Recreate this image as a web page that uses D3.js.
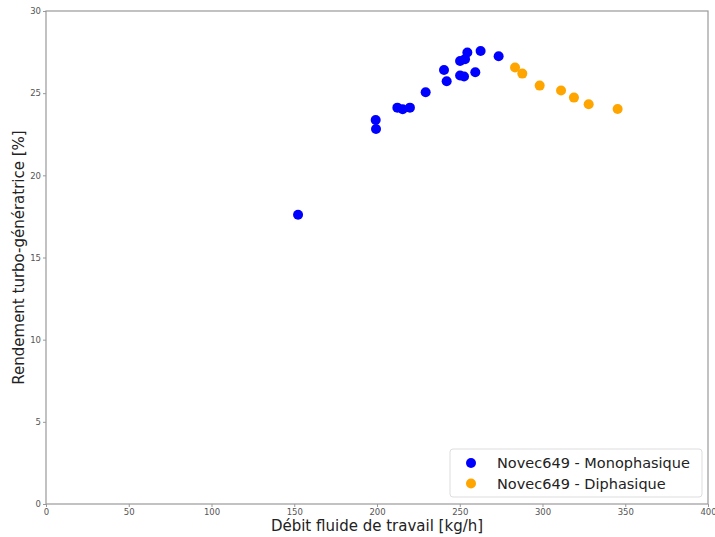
<!DOCTYPE html>
<html><head><meta charset="utf-8">
<script src="https://cdn.jsdelivr.net/npm/d3@7"></script>
<style>body{margin:0;background:#fff;}svg{display:block;font-family:"DejaVu Sans",sans-serif;}</style>
</head><body>
<svg id="c" width="715" height="537"></svg>
<script>
const monoX = [152.3,199.2,199.4,212.3,215.5,219.9,229.4,240.5,242.1,250.2,252.6,250.2,253.2,254.6,259.4,262.6,273.5];
const monoY = [17.6,23.37,22.82,24.12,24.02,24.12,25.06,26.41,25.72,26.07,26.01,26.96,27.07,27.47,26.27,27.57,27.25];
const diX = [283.4,287.8,298.3,311.2,319.0,327.9,345.4];
const diY = [26.56,26.19,25.46,25.16,24.73,24.33,24.04];
const xTicks = [0,50,100,150,200,250,300,350,400];
const yTicks = [0,5,10,15,20,25,30];
const seriesNames = ["Novec649 - Monophasique","Novec649 - Diphasique"];
const colors = ["#0000ff","#ffa500"];

const svg = d3.select("#c");
const L=46,R=708,T=11,B=504;
const x = d3.scaleLinear().domain([0,400]).range([L,R]);
const y = d3.scaleLinear().domain([0,30]).range([B,T]);

const gx = svg.append("g").attr("transform",`translate(0,${B})`)
  .call(d3.axisBottom(x).tickValues(xTicks).tickSize(3).tickPadding(2));
const gy = svg.append("g").attr("transform",`translate(${L},0)`)
  .call(d3.axisLeft(y).tickValues(yTicks).tickSize(3).tickPadding(2));
[gx,gy].forEach(g=>{
  g.selectAll("text").attr("font-size",8.5).attr("fill","#555").attr("font-family","DejaVu Sans");
  g.selectAll("line").attr("stroke","#999");
  g.select(".domain").remove();
});
svg.append("rect").attr("x",L).attr("y",T).attr("width",R-L).attr("height",B-T)
  .attr("fill","none").attr("stroke","#999").attr("stroke-width",1.2);

const mono = monoX.map((v,i)=>[v,monoY[i]]);
const di = diX.map((v,i)=>[v,diY[i]]);
svg.append("g").selectAll("circle").data(mono).join("circle")
  .attr("cx",d=>x(d[0])).attr("cy",d=>y(d[1])).attr("r",5).attr("fill",colors[0]);
svg.append("g").selectAll("circle").data(di).join("circle")
  .attr("cx",d=>x(d[0])).attr("cy",d=>y(d[1])).attr("r",5).attr("fill",colors[1]);

svg.append("text").attr("x",(L+R)/2).attr("y",531).attr("text-anchor","middle")
  .attr("font-size",15).attr("fill","#222").text("Débit fluide de travail [kg/h]");
svg.append("text").attr("transform",`translate(24,${(T+B)/2}) rotate(-90)`).attr("text-anchor","middle")
  .attr("font-size",15).attr("fill","#222").text("Rendement turbo-génératrice [%]");

const lg = svg.append("g");
lg.append("rect").attr("x",450).attr("y",449).attr("width",252).attr("height",48).attr("rx",3)
  .attr("fill","#fff").attr("fill-opacity",0.8).attr("stroke","#ddd");
seriesNames.forEach((n,i)=>{
  const yy = 463 + i*20.5;
  lg.append("circle").attr("cx",471).attr("cy",yy).attr("r",5).attr("fill",colors[i]);
  lg.append("text").attr("x",497).attr("y",yy+5).attr("font-size",14.5).attr("fill","#222").text(n);
});
</script>
</body></html>
